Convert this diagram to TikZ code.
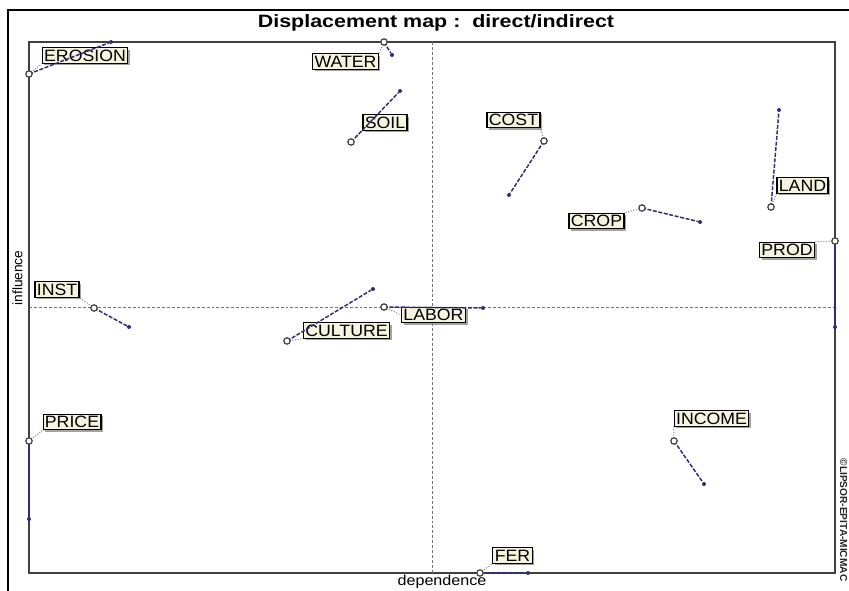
\documentclass[tikz,border=0pt]{standalone}
\usepackage{fontspec}
\setmainfont{Liberation Sans}
\newfontfamily\lblfont[FakeStretch=1.08]{Liberation Sans}
\newfontfamily\titlefont[FakeStretch=1.2]{Liberation Sans}
\newfontfamily\axfont[FakeStretch=1.12]{Liberation Sans}
\usetikzlibrary{shadows}
\definecolor{navy}{HTML}{2B2F75}
\definecolor{framegray}{HTML}{404040}
\definecolor{cream}{HTML}{F6F3DE}
\definecolor{leadgray}{HTML}{8A8A8A}
\tikzset{
  lbl/.style={draw=black, line width=0.85pt, fill=cream, inner xsep=1.4pt, inner ysep=1.3pt,
    text height=8.9pt, text depth=0pt, font=\lblfont\fontsize{12.3pt}{13pt}\selectfont,
    drop shadow={shadow xshift=1.6pt, shadow yshift=-1.6pt, fill=black!45, opacity=0.8}},
  opencirc/.style={circle, draw=black!75, line width=0.9pt, fill=white, inner sep=0pt, minimum size=4.8pt},
  dotm/.style={circle, fill=navy, inner sep=0pt, minimum size=3pt},
  move/.style={draw=navy, line width=1.1pt, dash pattern=on 3pt off 1.2pt},
  lead/.style={draw=leadgray, line width=0.8pt, dash pattern=on 0.8pt off 1.2pt},
  cross/.style={draw=black!55, line width=0.5pt, dash pattern=on 2.2pt off 1.5pt},
}
\begin{document}
\begin{tikzpicture}[x=0.75pt, y=-0.75pt]
\useasboundingbox (0,0) rectangle (849,591);
\fill[white] (0,0) rectangle (849,591);
% outer frame
\draw[black, line width=2.2pt] (8,591) -- (8,10) -- (849,10);
% title
\node[font=\titlefont\bfseries\fontsize{13.4pt}{15pt}\selectfont] (title) at (436,22.5) {Displacement map :\ \ direct/indirect};
% plot frame
\draw[framegray, line width=1.2pt] (29,42) rectangle (835,573);
% cross lines
\coordinate (vtop) at (432,42);
\coordinate (vbot) at (432,573);
\coordinate (hl) at (29,307);
\coordinate (hr) at (835,307);
\draw[cross] (vtop) -- (vbot);
\draw[cross] (hl) -- (hr);
% axis labels
\node[font=\fontsize{10.3pt}{11pt}\selectfont, rotate=90] (infl) at (17.5,278) {influence};
\node[font=\axfont\fontsize{10.8pt}{11pt}\selectfont] (dep) at (442,582) {dependence};
\node[font=\bfseries\fontsize{7.6pt}{8pt}\selectfont, rotate=-90, text=black!85] (copy) at (843.5,520) {©LIPSOR-EPITA-MICMAC};

% markers
\node[dotm] (erosionI) at (111,42) {};
\node[dotm] (waterI) at (392,55) {};
\node[dotm] (soilI) at (400,91) {};
\node[dotm] (costI) at (509,195) {};
\node[dotm] (landI) at (779,110) {};
\node[dotm] (cropI) at (700,222) {};
\node[dotm] (prodI) at (835,327) {};
\node[dotm] (instI) at (129,327) {};
\node[dotm] (cultureI) at (373,289) {};
\node[dotm] (laborI) at (483,308) {};
\node[dotm] (priceI) at (29,519) {};
\node[dotm] (incomeI) at (704,484) {};
\node[dotm] (ferI) at (528,573) {};

\coordinate (erosionD) at (29,74);
\coordinate (waterD) at (384,42);
\coordinate (soilD) at (351,142);
\coordinate (costD) at (544,141);
\coordinate (landD) at (771,207);
\coordinate (cropD) at (642,208);
\coordinate (prodD) at (835,241);
\coordinate (instD) at (94,308);
\coordinate (cultureD) at (287,341);
\coordinate (laborD) at (384,307);
\coordinate (priceD) at (29,441);
\coordinate (incomeD) at (674,441);
\coordinate (ferD) at (480,573);

% labels
\node[lbl] (erosionL) at (85,55.5) {EROSION};
\node[lbl] (waterL) at (345.5,61.5) {WATER};
\node[lbl] (soilL) at (385,122.5) {SOIL};
\node[lbl] (costL) at (513.5,120) {COST};
\node[lbl] (landL) at (802.5,185.5) {LAND};
\node[lbl] (cropL) at (596.5,221) {CROP};
\node[lbl] (prodL) at (787,250) {PROD};
\node[lbl] (instL) at (57,289.5) {INST};
\node[lbl] (cultureL) at (346.5,330.5) {CULTURE};
\node[lbl] (laborL) at (433.5,315) {LABOR};
\node[lbl] (priceL) at (72,422) {PRICE};
\node[lbl] (incomeL) at (711.5,418.5) {INCOME};
\node[lbl] (ferL) at (512.5,555.5) {FER};

% lead lines (dotted)
\draw[lead] (erosionD) -- (erosionL.south west);
\draw[lead] (waterD) -- (waterL.north east);
\draw[lead] (soilD) -- (soilL.south west);
\draw[lead] (costD) -- (costL.south east);
\draw[lead] (landD) -- (landL.south west);
\draw[lead] (cropD) -- (cropL.north east);
\draw[lead] (prodD) -- (prodL.north east);
\draw[lead] (instD) -- (instL.south east);
\draw[lead] (cultureD) -- (cultureL.south west);
\draw[lead] (laborD) -- (laborL.west);
\draw[lead] (priceD) -- (priceL.south west);
\draw[lead] (incomeD) -- (incomeL.south west);
\draw[lead] (ferD) -- (ferL.south west);

% displacement lines
\draw[move] (erosionD) -- (erosionI);
\draw[move] (waterD) -- (waterI);
\draw[move] (soilD) -- (soilI);
\draw[move] (costD) -- (costI);
\draw[move] (landD) -- (landI);
\draw[move] (cropD) -- (cropI);
\draw[navy, line width=1.1pt] (prodD) -- (prodI);
\draw[move] (instD) -- (instI);
\draw[move] (cultureD) -- (cultureI);
\draw[move] (laborD) -- (laborI);
\draw[navy, line width=1.1pt] (priceD) -- (priceI);
\draw[move] (incomeD) -- (incomeI);
\draw[move] (ferD) -- (ferI);

% open circles (direct positions)
\foreach \n in {erosion,water,soil,cost,land,crop,prod,inst,culture,labor,price,income,fer}
  \node[opencirc] (\n C) at (\n D) {};
\end{tikzpicture}
\end{document}
